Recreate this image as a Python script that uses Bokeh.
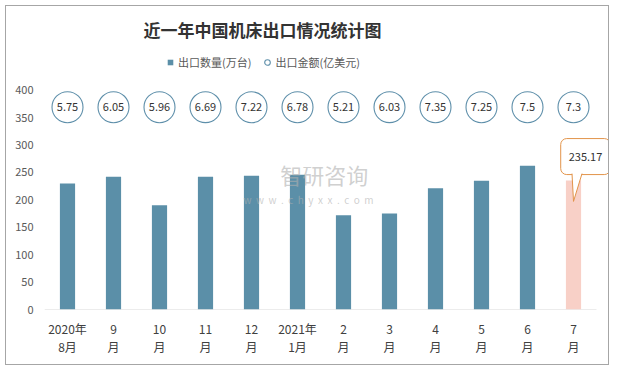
from bokeh.plotting import figure
from bokeh.models import Range1d, FixedTicker, Label, Legend, LegendItem, ColumnDataSource
from bokeh.embed import file_html
from bokeh.resources import INLINE
from bokeh.core.properties import value

# ---- data ----
months = ["2020年\n8月", "9\n月", "10\n月", "11\n月", "12\n月", "2021年\n1月",
          "2\n月", "3\n月", "4\n月", "5\n月", "6\n月", "7\n月"]
qty = [230, 242, 190, 242, 244, 246, 172, 175, 221, 235, 262, 235.17]   # 出口数量(万台)
amount = [5.75, 6.05, 5.96, 6.69, 7.22, 6.78, 5.21, 6.03, 7.35, 7.25, 7.5, 7.3]  # 出口金额(亿美元)
y_ticks = [0, 50, 100, 150, 200, 250, 300, 350, 400]

FONT = "Noto Sans CJK SC"
BAR = "#5B8FA8"
HIGHLIGHT = "#F8D0C7"
RING = "#5E8FAA"
ORANGE = "#E2944A"
ring_level = 369

n = len(months)
xpos = [i + 0.5 for i in range(n)]
colors = [BAR] * (n - 1) + [HIGHLIGHT]
src = ColumnDataSource(dict(x=xpos, qty=qty, color=colors,
                            ring=[ring_level] * n,
                            amt=[str(a) for a in amount]))

# layout (pixels)
W, H = 604, 360
ML, MB, MT = 38, 57, 42
DATA_H = 221                     # pixels from 0 to 400
CAT_W = 46.0                     # pixels per category
ppu = DATA_H / (y_ticks[-1] - y_ticks[0])
frame_h = H - MT - MB
frame_w = W - ML
y_end = y_ticks[-1] * frame_h / DATA_H
x_end = frame_w / CAT_W

p = figure(x_range=Range1d(0, x_end), y_range=Range1d(y_ticks[0], y_end),
           width=W, height=H, output_backend="svg", toolbar_location=None,
           min_border_left=ML, min_border_right=0, min_border_top=MT, min_border_bottom=MB,
           outline_line_color=None, title="近一年中国机床出口情况统计图")
p.styles = {"border": "1px solid #A6A6A6", "margin-left": "5px", "margin-top": "5px"}

p.title.text_font = FONT
p.title.text_font_size = "17px"
p.title.text_font_style = "bold"
p.title.text_color = "#333333"
p.title.align = "left"
p.title.offset = 99
p.title.standoff = 17

p.xgrid.visible = False
p.ygrid.visible = False

p.yaxis.ticker = FixedTicker(ticks=y_ticks)
p.yaxis.axis_line_color = None
p.yaxis.major_tick_line_color = None
p.yaxis.minor_tick_line_color = None
p.yaxis.major_tick_out = 0
p.yaxis.major_label_standoff = 11
p.yaxis.major_label_text_font = FONT
p.yaxis.major_label_text_font_size = "11px"
p.yaxis.major_label_text_color = "#595959"

p.xaxis.ticker = FixedTicker(ticks=xpos)
p.xaxis.major_label_overrides = {x: m for x, m in zip(xpos, months)}
p.xaxis.axis_line_color = None
p.xaxis.major_tick_line_color = None
p.xaxis.minor_tick_line_color = None
p.xaxis.major_tick_out = 0
p.xaxis.major_label_standoff = 10
p.xaxis.major_label_text_font = FONT
p.xaxis.major_label_text_font_size = "12px"
p.xaxis.major_label_text_color = "#404040"
p.xaxis.major_label_text_line_height = 1.1

# category axis baseline (only across the categories)
p.segment(x0=[0], x1=[n], y0=[0], y1=[0], line_color="#D9D9D9", line_width=1)

bars = p.vbar(x="x", top="qty", width=0.33, fill_color="color", line_color=None, source=src)

rings = p.scatter(x="x", y="ring", size=31, marker="circle", fill_color="white",
                  line_color=RING, line_width=1.1, source=src)
p.text(x="x", y="ring", text="amt", text_align="center", text_baseline="middle",
       text_font=value(FONT), text_font_size="11px", text_color="#333333", source=src)

# legend (square swatch drawn off-range so only the legend shows it)
sq = p.scatter(x=[-10], y=[-10], marker="square", fill_color=BAR, line_color=None)
legend = Legend(items=[LegendItem(label="出口数量(万台)", renderers=[sq]),
                       LegendItem(label="出口金额(亿美元)", renderers=[rings])],
                location=(119, 239), orientation="horizontal",
                glyph_width=14, glyph_height=16, label_height=16, label_standoff=1,
                spacing=9, padding=0, margin=0, border_line_color=None,
                background_fill_alpha=0,
                label_text_font=FONT, label_text_font_size="11px", label_text_color="#595959")
p.add_layout(legend, "center")

# watermark
NB = "\u00a0\u00a0"
p.add_layout(Label(x=6.08, y=248, text="智研咨询", text_align="center", text_baseline="middle",
                   text_font=FONT, text_font_size="22px", text_color="#B0B0B0", text_alpha=0.6))
p.add_layout(Label(x=5.74, y=201, text=NB.join("www.chyxx.com"), text_align="center",
                   text_baseline="middle", text_font=FONT, text_font_size="10px",
                   text_color="#B0B0B0", text_alpha=0.6))

# callout for last bar
last_x = xpos[-1]
last_y = qty[-1]
p.add_layout(Label(x=last_x, y=last_y, x_offset=12, y_offset=24, text=f"{last_y:.2f}",
                   text_align="center", text_baseline="middle", text_font=FONT,
                   text_font_size="11px", text_color="#333333",
                   background_fill_color="white", border_line_color=ORANGE,
                   border_line_width=1, border_radius=6, padding=(8, 14)))
tip = (last_x, last_y - 21 / ppu)
base_l = (last_x - 1.5 / CAT_W, last_y + 7.5 / ppu)
base_r = (last_x + 8.5 / CAT_W, last_y + 7.5 / ppu)
ptr = p.patch(x=[base_l[0], tip[0], base_r[0]], y=[base_l[1], tip[1], base_r[1]],
              fill_color="white", line_color=None)
ptr.level = "overlay"
pl = p.line(x=[base_l[0], tip[0], base_r[0]], y=[base_l[1] - 0.5 / ppu, tip[1], base_r[1] - 0.5 / ppu],
            line_color=ORANGE, line_width=1)
pl.level = "overlay"

open("out.html", "w").write(file_html(p, INLINE))
